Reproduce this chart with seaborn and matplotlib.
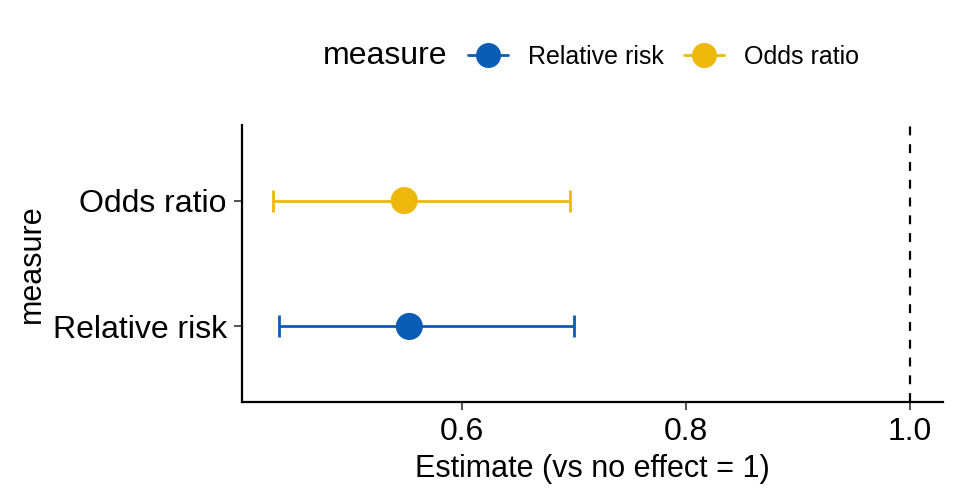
import matplotlib
matplotlib.use('Agg')
import matplotlib.pyplot as plt
from matplotlib.lines import Line2D
import seaborn as sns
import pandas as pd

###
#   DATA
###
measures = ['Relative risk', 'Odds ratio']
estimates = [0.553, 0.5485]
lower = [0.4366, 0.4315]
upper = [0.7003, 0.6967]
colors = ['#0B5CB5', '#EDB80A']

df = pd.DataFrame({'measure': measures, 'estimate': estimates,
                   'lower': lower, 'upper': upper})

###
#   STYLE
###
sns.set_style('ticks')
plt.rcParams['font.family'] = ['Liberation Sans', 'DejaVu Sans']
plt.rcParams['text.color'] = 'black'
plt.rcParams['axes.labelcolor'] = 'black'
plt.rcParams['xtick.color'] = 'black'
plt.rcParams['ytick.color'] = 'black'

fig = plt.figure(figsize=(9.6, 4.99), dpi=100)
ax = fig.add_axes([242 / 960, 1 - 402 / 499, (943 - 242) / 960, (402 - 125) / 499])

# map categories to positions (Relative risk bottom)
ypos = {m: i + 1 for i, m in enumerate(measures)}
df['y'] = df['measure'].map(ypos)

for i, row in df.iterrows():
    ax.errorbar(row['estimate'], row['y'],
                xerr=[[row['estimate'] - row['lower']], [row['upper'] - row['estimate']]],
                fmt='none', ecolor=colors[i], elinewidth=2, capsize=8, capthick=2, zorder=2)

sns.scatterplot(data=df, x='estimate', y='y', hue='measure', palette=colors,
                s=380, edgecolor='none', ax=ax, legend=False, zorder=3)

ax.axvline(1.0, color='black', linestyle=(0, (4, 4)), linewidth=1.6)

ax.set_xlim(0.4036, 1.0295)
ax.set_ylim(0.4, 2.6)
ax.set_yticks([ypos[m] for m in measures])
ax.set_yticklabels(measures)
ax.set_xticks([0.6, 0.8, 1.0])
ax.set_xticklabels(['0.6', '0.8', '1.0'])
ax.tick_params(axis='both', labelsize=23, length=6, width=1.2, color='#333333', pad=5)
ax.set_xlabel('Estimate (vs no effect = 1)', fontsize=22, labelpad=5)
ax.set_ylabel('measure', fontsize=22, labelpad=4)
sns.despine(ax=ax)
for s in ['left', 'bottom']:
    ax.spines[s].set_linewidth(1.6)
    ax.spines[s].set_color('black')

###
#   LEGEND
###
handles = [Line2D([], [], color='none', marker=None)]
labels = ['measure']
for m, c in zip(measures, colors):
    handles.append(Line2D([], [], color=c, marker='o', markersize=17, linewidth=2))
    labels.append(m)
leg = fig.legend(handles, labels, ncol=3, loc='center', bbox_to_anchor=(561 / 960, 1 - 56 / 499),
                 frameon=False, fontsize=18, handlelength=1.6, handletextpad=0.8, columnspacing=0.8)
texts = leg.get_texts()
texts[0].set_fontsize(23)

fig.savefig('out.png', dpi=100)
